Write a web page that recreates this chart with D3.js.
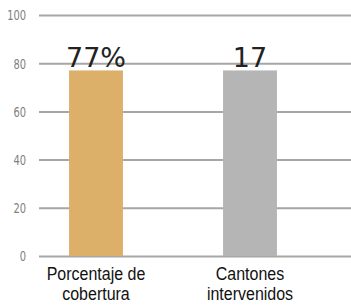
<!DOCTYPE html>
<html>
<head>
<meta charset="utf-8">
<script src="https://cdn.jsdelivr.net/npm/d3@7"></script>
<style>
  body { margin: 0; background: #fff; }
  svg { display: block; }
</style>
</head>
<body>
<div id="chart"></div>
<script>
// chart data
var categories = [["Porcentaje de", "cobertura"], ["Cantones", "intervenidos"]];
var values = [77, 77];
var valueLabels = ["77%", "17"];
var colors = ["#DDB06A", "#B5B5B5"];
var yTicks = [0, 20, 40, 60, 80, 100];

var width = 351, height = 305;

var svg = d3.select("#chart")
    .append("svg")
    .attr("width", width)
    .attr("height", height);

var y = d3.scaleLinear()
    .domain([0, 100])
    .range([256, 15]);

var x = d3.scaleBand()
    .domain(d3.range(categories.length))
    .range([19, 327])
    .paddingInner(0.65)
    .paddingOuter(0.325);

// gridlines + tick labels
var yAxis = svg.append("g")
    .attr("transform", "translate(39,0)")
    .call(d3.axisLeft(y).tickValues(yTicks).tickSize(-(width - 39)).tickPadding(13));
yAxis.select(".domain").remove();
yAxis.selectAll(".tick line")
    .attr("stroke", "#A6A6A6")
    .attr("stroke-width", 2);
yAxis.selectAll(".tick text")
    .attr("fill", "#808080")
    .attr("font-family", "'Liberation Sans Narrow', 'DejaVu Sans Condensed', sans-serif")
    .attr("font-size", 11)
    .attr("dy", null)
    .attr("y", 0)
    .attr("dominant-baseline", "central")
    .attr("transform", "scale(1,1.25)");

// bars
svg.selectAll("rect.bar")
    .data(values)
    .enter()
    .append("rect")
    .attr("class", "bar")
    .attr("x", function (d, i) { return x(i); })
    .attr("width", x.bandwidth())
    .attr("y", function (d) { return y(d); })
    .attr("height", function (d) { return y(0) - y(d); })
    .attr("fill", function (d, i) { return colors[i]; });

// value labels
svg.selectAll("text.val")
    .data(values)
    .enter()
    .append("text")
    .attr("class", "val")
    .attr("x", function (d, i) { return x(i) + x.bandwidth() / 2; })
    .attr("y", function (d) { return y(d) - 3; })
    .attr("text-anchor", "middle")
    .attr("font-family", "'DejaVu Sans', sans-serif")
    .attr("font-size", 27)
    .attr("fill", "#222")
    .text(function (d, i) { return valueLabels[i]; });

// category labels, one text per line
categories.forEach(function (lines, i) {
    lines.forEach(function (line, j) {
        svg.append("text")
            .attr("class", "cat")
            .attr("text-anchor", "middle")
            .attr("font-family", "'Liberation Sans', Arial, sans-serif")
            .attr("font-size", 16)
            .attr("fill", "#111")
            .attr("transform", "translate(" + (x(i) + x.bandwidth() / 2) + "," + (280 + j * 20) + ") scale(1,1.12)")
            .text(line);
    });
});
</script>
</body>
</html>
